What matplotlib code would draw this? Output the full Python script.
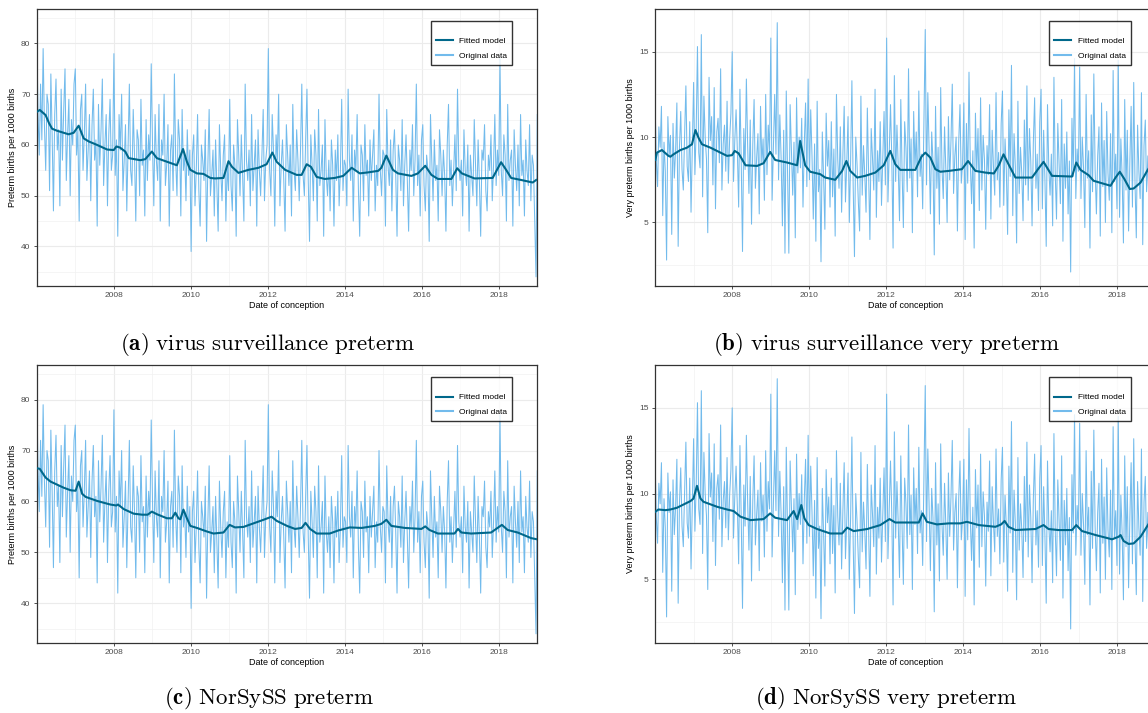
import numpy as np
import matplotlib.pyplot as plt

plt.rcParams['font.family'] = ['Liberation Sans', 'DejaVu Sans']
plt.rcParams['mathtext.fontset'] = 'cm'

# original data (same series in a/c and in b/d), ~30 obs per year 2006-2019
preterm = [
    84, 66, 58, 72, 61, 79, 64, 55, 70, 68, 51, 74, 62, 47, 66, 73, 59, 63, 48, 71, 57, 67, 75, 53, 62, 69, 50, 65, 60, 72,
    75, 58, 63, 45, 67, 70, 55, 62, 72, 53, 59, 66, 49, 64, 71, 57, 61, 44, 68, 56, 63, 73, 52, 60, 66, 48, 62, 69, 55, 58,
    78, 54, 61, 42, 66, 59, 70, 51, 57, 64, 47, 60, 72, 55, 52, 67, 58, 45, 63, 61, 50, 69, 56, 59, 46, 65, 53, 62, 57, 76,
    60, 48, 66, 57, 53, 68, 45, 61, 58, 70, 52, 56, 64, 44, 59, 62, 51, 74, 57, 50, 65, 61, 46, 67, 55, 58, 49, 63, 54, 59,
    39, 58, 62, 48, 55, 66, 51, 44, 60, 57, 53, 63, 41, 56, 67, 50, 54, 59, 46, 61, 52, 43, 64, 55, 49, 58, 62, 45, 56, 51,
    69, 52, 47, 60, 56, 42, 65, 58, 50, 62, 54, 45, 72, 57, 53, 59, 48, 66, 51, 56, 61, 44, 63, 55, 50, 58, 67, 49, 57, 60,
    79, 55, 50, 66, 59, 44, 62, 57, 70, 48, 56, 61, 53, 43, 64, 58, 52, 60, 46, 68, 55, 51, 63, 57, 49, 59, 72, 54, 50, 61,
    71, 53, 41, 62, 56, 49, 63, 58, 45, 67, 52, 55, 60, 42, 65, 54, 50, 57, 47, 61, 56, 44, 59, 53, 62, 48, 55, 69, 51, 57,
    56, 48, 71, 57, 53, 62, 45, 59, 55, 66, 51, 42, 60, 58, 49, 64, 54, 57, 46, 61, 53, 58, 63, 47, 56, 52, 70, 55, 50, 59,
    58, 44, 67, 56, 52, 61, 47, 59, 63, 54, 42, 60, 57, 51, 65, 48, 56, 62, 53, 43, 59, 55, 64, 50, 57, 72, 52, 58, 46, 61,
    64, 52, 47, 58, 55, 41, 66, 57, 49, 61, 53, 56, 45, 63, 58, 50, 59, 54, 43, 60, 68, 52, 57, 48, 55, 62, 51, 71, 56, 53,
    57, 46, 63, 55, 52, 60, 43, 58, 54, 50, 65, 56, 48, 61, 53, 42, 59, 57, 64, 51, 47, 58, 55, 62, 49, 56, 66, 52, 59, 54,
    77, 55, 50, 62, 58, 45, 68, 53, 57, 59, 44, 63, 56, 51, 60, 48, 66, 54, 57, 46, 61, 55, 52, 64, 49, 58, 56, 45, 34, 66,
]
very_preterm = [
    12.3, 8.6, 7.1, 10.6, 9.4, 11.8, 5.4, 9.7, 8.0, 2.8, 11.2, 8.9, 10.1, 4.3, 10.8, 7.6, 9.2, 12.0, 3.6, 9.4, 11.5, 8.1, 6.9, 10.1, 13.0, 8.3, 7.4, 10.9, 5.6, 9.5,
    13.2, 7.8, 10.4, 15.3, 9.1, 8.2, 16.0, 6.5, 12.4, 10.0, 8.7, 4.4, 13.5, 9.8, 11.2, 7.2, 12.9, 5.8, 10.3, 11.1, 8.5, 14.0, 6.9, 9.6, 10.7, 8.0, 12.1, 7.3, 9.9, 11.4,
    15.0, 7.4, 9.8, 11.6, 9.2, 5.9, 12.8, 8.6, 3.3, 10.5, 8.1, 13.4, 9.5, 6.7, 11.0, 4.9, 9.6, 12.2, 7.0, 8.8, 10.2, 5.5, 11.8, 8.4, 9.9, 6.3, 12.5, 7.8, 10.7, 9.1,
    15.8, 6.3, 9.4, 12.5, 9.0, 16.7, 7.5, 11.3, 8.8, 4.8, 10.4, 3.2, 12.7, 8.1, 3.2, 11.9, 9.3, 6.6, 9.7, 4.1, 12.3, 7.9, 10.0, 8.2, 11.1, 5.9, 9.6, 12.0, 7.1, 13.4,
    7.5, 11.6, 8.9, 5.2, 9.6, 3.9, 12.1, 6.8, 8.1, 2.7, 10.3, 7.7, 4.6, 11.4, 8.3, 9.8, 5.9, 10.9, 6.5, 9.3, 4.2, 12.5, 8.7, 7.0, 10.6, 5.6, 9.0, 11.8, 6.2, 8.4,
    11.2, 5.0, 8.6, 13.3, 7.1, 3.0, 10.0, 8.4, 6.2, 4.5, 12.4, 6.6, 9.5, 7.8, 5.6, 11.7, 7.9, 4.0, 10.5, 8.8, 6.9, 12.8, 5.3, 9.2, 7.4, 10.9, 6.0, 8.7, 11.5, 7.2,
    15.8, 6.2, 9.1, 11.9, 8.8, 3.5, 13.6, 7.4, 10.7, 8.3, 5.1, 12.2, 8.0, 4.7, 10.9, 9.4, 6.8, 14.0, 7.6, 9.9, 4.4, 11.5, 8.2, 10.3, 6.5, 12.7, 7.7, 9.0, 5.8, 11.0,
    16.3, 7.2, 12.6, 9.3, 5.5, 10.3, 8.6, 3.1, 11.8, 7.0, 9.4, 4.9, 12.9, 8.2, 6.4, 10.6, 8.1, 5.0, 11.2, 7.5, 9.8, 13.1, 6.7, 8.9, 10.0, 4.5, 9.7, 11.9, 7.3, 8.5,
    12.0, 4.0, 10.8, 7.3, 13.8, 8.5, 6.1, 9.2, 3.5, 11.4, 8.0, 10.5, 5.7, 12.3, 6.9, 10.1, 8.7, 4.6, 9.5, 7.8, 11.9, 5.2, 10.4, 8.3, 6.6, 12.6, 7.5, 9.1, 5.9, 10.8,
    12.7, 6.0, 9.9, 8.1, 4.3, 11.6, 7.7, 14.2, 5.4, 10.2, 8.3, 3.8, 12.1, 6.7, 9.4, 7.9, 5.1, 11.0, 7.2, 13.0, 6.3, 10.5, 8.6, 4.8, 9.7, 12.3, 7.0, 9.0, 5.7, 10.9,
    12.8, 5.8, 10.4, 7.5, 3.6, 11.9, 8.2, 6.6, 9.0, 4.8, 13.5, 7.9, 5.2, 10.8, 8.4, 6.1, 12.2, 3.9, 9.6, 7.0, 10.3, 5.5, 8.6, 2.1, 11.1, 7.7, 14.6, 6.4, 9.3, 8.0,
    14.1, 6.4, 10.0, 8.2, 4.7, 12.5, 7.6, 9.2, 3.5, 11.3, 6.8, 13.7, 8.1, 5.5, 8.9, 10.6, 4.2, 12.0, 7.1, 9.8, 5.0, 11.5, 7.9, 6.3, 10.2, 4.4, 13.9, 7.4, 9.0, 5.8,
    14.5, 5.3, 9.9, 7.7, 3.8, 12.2, 6.9, 10.4, 4.5, 8.6, 11.8, 5.9, 13.2, 7.3, 4.1, 10.7, 8.0, 6.4, 12.6, 3.7, 9.5, 11.0, 6.8, 8.9, 5.2, 13.1, 10.0, 7.6, 12.2, 9.3,
]
obs_year_p = np.linspace(2006.0, 2019.0, len(preterm))
obs_year_vp = np.linspace(2006.0, 2019.0, len(very_preterm))

# fitted models (decimal year, value)
fit_a_x = [2006.02, 2006.08, 2006.23, 2006.32, 2006.40, 2006.53, 2006.83, 2006.96, 2007.09, 2007.22,
           2007.35, 2007.57, 2007.83, 2008.00, 2008.07, 2008.16, 2008.30, 2008.39, 2008.69, 2008.82,
           2008.99, 2009.12, 2009.38, 2009.64, 2009.80, 2009.90, 2009.99, 2010.16, 2010.33, 2010.51,
           2010.63, 2010.85, 2010.98, 2011.07, 2011.24, 2011.50, 2011.76, 2011.97, 2012.12, 2012.23,
           2012.45, 2012.75, 2012.88, 2013.01, 2013.12, 2013.27, 2013.48, 2013.74, 2013.96, 2014.18,
           2014.39, 2014.61, 2014.87, 2014.95, 2015.08, 2015.25, 2015.38, 2015.73, 2015.90, 2016.09,
           2016.25, 2016.42, 2016.77, 2016.92, 2017.04, 2017.37, 2017.84, 2018.06, 2018.19, 2018.32,
           2018.58, 2018.88, 2018.97]
fit_a_y = [66.6, 66.9, 65.9, 64.3, 63.2, 62.8, 62.1, 62.4, 63.8, 61.3,
           60.7, 60.0, 59.1, 59.0, 59.7, 59.5, 58.7, 57.4, 57.0, 57.2,
           58.7, 57.4, 56.7, 56.0, 59.2, 56.7, 55.1, 54.4, 54.3, 53.5,
           53.4, 53.5, 56.8, 55.7, 54.5, 55.1, 55.5, 56.2, 58.5, 56.7,
           55.1, 54.1, 54.1, 56.2, 55.7, 53.7, 53.3, 53.5, 53.9, 55.5,
           54.4, 54.6, 54.9, 55.5, 57.9, 55.1, 54.4, 53.9, 54.4, 55.9,
           54.1, 53.3, 53.3, 55.4, 54.4, 53.4, 53.5, 56.6, 55.1, 53.5,
           53.1, 52.6, 53.1]

fit_b_x = [2006.01, 2006.05, 2006.18, 2006.35, 2006.40, 2006.48, 2006.66, 2006.83, 2006.96, 2007.05,
           2007.13, 2007.22, 2007.44, 2007.70, 2007.87, 2008.00, 2008.07, 2008.17, 2008.35, 2008.65,
           2008.82, 2008.99, 2009.12, 2009.43, 2009.69, 2009.77, 2009.90, 2010.03, 2010.29, 2010.42,
           2010.68, 2010.86, 2010.97, 2011.07, 2011.25, 2011.46, 2011.72, 2011.94, 2012.11, 2012.24,
           2012.37, 2012.76, 2012.92, 2013.02, 2013.15, 2013.28, 2013.41, 2013.63, 2013.97, 2014.13,
           2014.32, 2014.58, 2014.80, 2014.93, 2015.05, 2015.18, 2015.36, 2015.79, 2015.96, 2016.09,
           2016.31, 2016.83, 2016.94, 2017.05, 2017.26, 2017.39, 2017.83, 2017.96, 2018.07, 2018.19,
           2018.33, 2018.43, 2018.61, 2018.78, 2018.90, 2019.00]
fit_b_y = [8.66, 9.09, 9.24, 8.90, 8.85, 8.99, 9.24, 9.38, 9.58, 10.41,
           9.96, 9.58, 9.38, 9.09, 8.90, 8.94, 9.19, 9.05, 8.35, 8.31,
           8.47, 9.13, 8.66, 8.51, 8.35, 9.77, 8.35, 7.97, 7.83, 7.63,
           7.50, 8.02, 8.60, 8.02, 7.63, 7.73, 7.92, 8.35, 9.19, 8.41,
           8.08, 8.08, 8.85, 9.09, 8.80, 8.12, 7.97, 8.02, 8.12, 8.60,
           8.02, 7.92, 7.87, 8.35, 8.99, 8.41, 7.63, 7.63, 8.16, 8.55,
           7.73, 7.69, 8.51, 8.08, 7.77, 7.44, 7.15, 7.63, 7.97, 7.54,
           6.96, 6.99, 7.34, 8.02, 8.45, 8.75]

fit_c_x = [2006.02, 2006.08, 2006.23, 2006.36, 2006.53, 2006.70, 2006.88, 2007.01, 2007.09, 2007.18,
           2007.27, 2007.57, 2007.91, 2008.07, 2008.11, 2008.26, 2008.52, 2008.74, 2008.88, 2008.99,
           2009.12, 2009.38, 2009.51, 2009.60, 2009.68, 2009.73, 2009.81, 2009.90, 2009.99, 2010.16,
           2010.42, 2010.59, 2010.85, 2011.01, 2011.15, 2011.37, 2011.63, 2011.89, 2012.10, 2012.23,
           2012.50, 2012.71, 2012.88, 2012.98, 2013.10, 2013.27, 2013.61, 2013.83, 2014.13, 2014.44,
           2014.78, 2014.95, 2015.08, 2015.21, 2015.56, 2015.99, 2016.09, 2016.20, 2016.42, 2016.85,
           2016.94, 2017.03, 2017.28, 2017.80, 2018.08, 2018.23, 2018.49, 2018.84, 2018.97]
fit_c_y = [66.5, 66.4, 64.7, 63.9, 63.3, 62.7, 62.2, 62.1, 63.9, 61.5,
           60.9, 60.1, 59.4, 59.2, 59.4, 58.5, 57.6, 57.4, 57.4, 58.0,
           57.5, 56.7, 56.7, 57.8, 56.7, 56.5, 58.4, 56.7, 55.2, 54.8,
           54.1, 53.7, 53.9, 55.4, 54.9, 55.0, 55.7, 56.4, 57.0, 56.2,
           55.2, 54.6, 54.8, 55.8, 54.6, 53.7, 53.7, 54.3, 54.9, 54.8,
           55.2, 55.6, 56.4, 55.2, 54.8, 54.6, 55.1, 54.4, 53.7, 53.7,
           54.6, 53.9, 53.7, 53.9, 55.4, 54.4, 53.9, 52.8, 52.6]

fit_d_x = [2006.01, 2006.09, 2006.27, 2006.40, 2006.57, 2006.74, 2006.92, 2007.00, 2007.09, 2007.18,
           2007.26, 2007.61, 2007.87, 2008.04, 2008.22, 2008.48, 2008.82, 2008.99, 2009.12, 2009.43,
           2009.60, 2009.69, 2009.80, 2009.88, 2009.99, 2010.21, 2010.55, 2010.86, 2010.99, 2011.16,
           2011.51, 2011.85, 2012.09, 2012.24, 2012.59, 2012.85, 2012.95, 2013.06, 2013.32, 2013.63,
           2013.93, 2014.10, 2014.41, 2014.84, 2014.99, 2015.08, 2015.18, 2015.36, 2015.88, 2016.09,
           2016.22, 2016.48, 2016.83, 2016.94, 2017.09, 2017.44, 2017.87, 2018.04, 2018.09, 2018.17,
           2018.30, 2018.43, 2018.61, 2018.80, 2018.92, 2019.00]
fit_d_y = [8.94, 9.07, 9.03, 9.07, 9.17, 9.36, 9.56, 9.71, 10.45, 9.71,
           9.52, 9.23, 9.07, 8.98, 8.65, 8.45, 8.51, 8.84, 8.59, 8.45,
           8.98, 8.51, 9.33, 8.55, 8.16, 7.93, 7.67, 7.67, 8.01, 7.81,
           7.93, 8.16, 8.51, 8.31, 8.31, 8.31, 8.84, 8.35, 8.20, 8.26,
           8.26, 8.35, 8.16, 8.06, 8.20, 8.40, 8.06, 7.87, 7.93, 8.16,
           7.93, 7.87, 7.87, 8.16, 7.81, 7.58, 7.33, 7.48, 7.58, 7.23,
           7.06, 7.09, 7.48, 8.16, 8.6, 8.95]

year_ticks = [2008, 2010, 2012, 2014, 2016, 2018]
year_minor = [2007, 2009, 2011, 2013, 2015, 2017, 2019]
captions = [r'$\mathbf{(a)}\ \mathrm{virus\ surveillance\ preterm}$',
            r'$\mathbf{(b)}\ \mathrm{virus\ surveillance\ very\ preterm}$',
            r'$\mathbf{(c)}\ \mathrm{NorSySS\ preterm}$',
            r'$\mathbf{(d)}\ \mathrm{NorSySS\ very\ preterm}$']

ORIG = '#72BBEC'
FIT = '#00688B'


def draw_panel(ax, ox, orig, fx, fy, ylim, yticks, yminor, ylabel):
    ax.plot(ox, orig, color=ORIG, lw=0.75, label='Original data', zorder=2)
    ax.plot(fx, fy, color=FIT, lw=1.5, label='Fitted model', zorder=3)
    ax.set_xlim(2006.0, 2019.0)
    ax.set_ylim(*ylim)
    ax.set_xticks(year_ticks)
    ax.set_xticks(year_minor, minor=True)
    ax.set_yticks(yticks)
    ax.set_yticks(yminor, minor=True)
    ax.set_axisbelow(True)
    ax.grid(which='major', color='#EBEBEB', lw=0.8)
    ax.grid(which='minor', color='#F2F2F2', lw=0.5)
    ax.tick_params(which='major', length=2.5, width=0.6, color='#333333',
                   labelsize=6, labelcolor='#4D4D4D', pad=2)
    ax.tick_params(which='minor', length=0)
    for s in ax.spines.values():
        s.set_color('#333333')
        s.set_linewidth(0.9)
    ax.set_xlabel('Date of conception', fontsize=6.5, labelpad=1)
    ax.set_ylabel(ylabel, fontsize=6.5, labelpad=3)
    h, l = ax.get_legend_handles_labels()
    leg = ax.legend(h[::-1], l[::-1], loc='upper right', bbox_to_anchor=(0.950, 0.957),
                    borderaxespad=0, fontsize=6, title=' ', title_fontsize=4.5,
                    frameon=True, fancybox=False, edgecolor='black',
                    handlelength=2.0, handletextpad=0.8, labelspacing=0.8,
                    borderpad=0.6)
    leg.get_frame().set_linewidth(1.0)
    for line in leg.get_lines():
        line.set_linewidth(1.5)


fig = plt.figure(figsize=(11.48, 7.13), dpi=100)
w = 500.6 / 1148
h_top = 277 / 713
ax_a = fig.add_axes([36.7 / 1148, 1 - 286 / 713, w, h_top])
ax_b = fig.add_axes([655 / 1148, 1 - 286 / 713, w, h_top])
ax_c = fig.add_axes([36.7 / 1148, 1 - 643 / 713, w, 278 / 713])
ax_d = fig.add_axes([655 / 1148, 1 - 643 / 713, w, 278 / 713])

draw_panel(ax_a, obs_year_p, preterm, fit_a_x, fit_a_y, (32.2, 86.8), [40, 50, 60, 70, 80],
           [35, 45, 55, 65, 75, 85], 'Preterm births per 1000 births')
draw_panel(ax_b, obs_year_vp, very_preterm, fit_b_x, fit_b_y, (1.28, 17.4), [5, 10, 15],
           [2.5, 7.5, 12.5, 17.5], 'Very preterm births per 1000 births')
draw_panel(ax_c, obs_year_p, preterm, fit_c_x, fit_c_y, (32.2, 86.8), [40, 50, 60, 70, 80],
           [35, 45, 55, 65, 75, 85], 'Preterm births per 1000 births')
draw_panel(ax_d, obs_year_vp, very_preterm, fit_d_x, fit_d_y, (1.28, 17.4), [5, 10, 15],
           [2.5, 7.5, 12.5, 17.5], 'Very preterm births per 1000 births')

cap_pos = [(268, 344), (886, 344), (269, 698), (886, 698)]
for (cx, cy), txt in zip(cap_pos, captions):
    fig.text(cx / 1148, 1 - cy / 713, txt, ha='center', va='center', fontsize=16.5)

fig.savefig('out.png', dpi=100)
